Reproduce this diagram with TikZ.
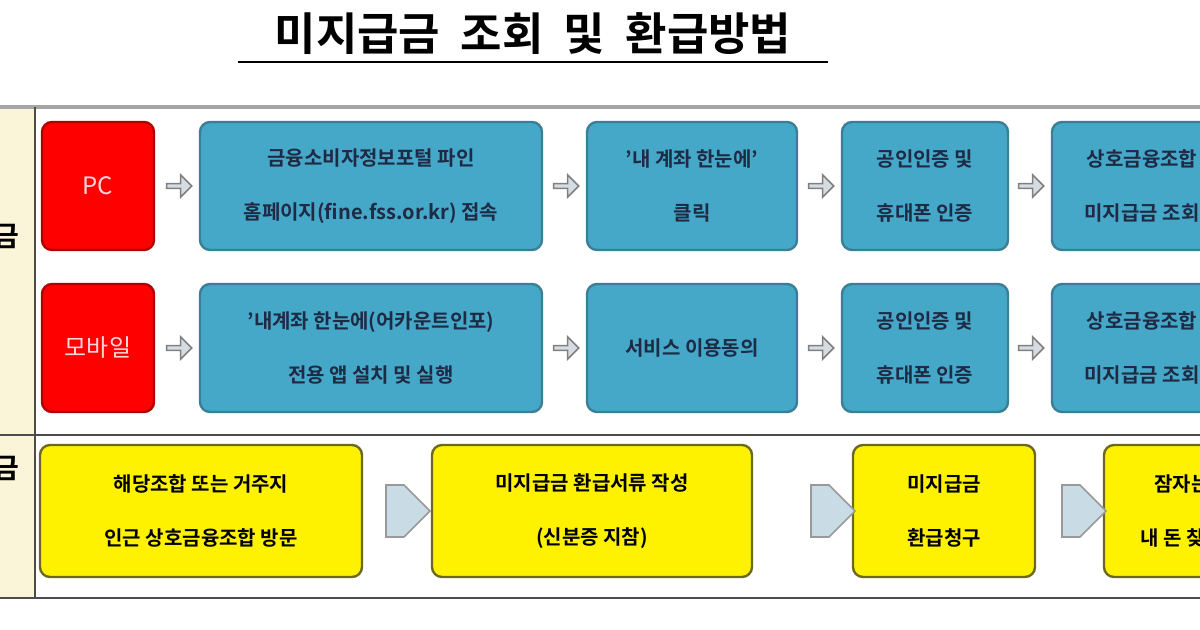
\documentclass[tikz,border=0pt]{standalone}
\usepackage{fontspec}
\setmainfont{Noto Sans CJK KR}[BoldFont={* Bold}]
\usetikzlibrary{shapes.arrows}
\definecolor{cream}{HTML}{FAF5D8}
\definecolor{blueF}{HTML}{45A8C8}
\definecolor{blueD}{HTML}{3A7F96}
\definecolor{navy}{HTML}{1F2A44}
\definecolor{arrG}{HTML}{D5DDE3}
\definecolor{arrB}{HTML}{C9DCE6}
\tikzset{
  box/.style={rounded corners=5pt, line width=1.2pt, align=center, font=\bfseries\fontsize{10}{27}\selectfont, inner sep=0pt},
  redbox/.style={box, fill=red, draw=red!70!black, text=white!85!red, font=\fontsize{12}{14}\selectfont, minimum width=56pt, minimum height=64pt},
  bluebox/.style={box, fill=blueF, draw=blueD, text=navy, minimum height=64pt},
  yelbox/.style={box, fill=yellow, draw=olive!70!black, text=black, minimum height=66pt},
  tinyarrow/.style={single arrow, draw=gray, line width=0.8pt, fill=arrG, minimum width=11pt, single arrow head extend=1.5pt, minimum height=12.5pt, inner sep=0pt},
  bigarrow/.style={single arrow, draw=gray!80, line width=0.8pt, fill=arrB, minimum width=26pt, single arrow head extend=0pt, minimum height=22pt, inner sep=0pt}
}
\begin{document}
\begin{tikzpicture}[x=0.5pt,y=-0.5pt]
\useasboundingbox (0,0) rectangle (1200,630);
\clip (0,0) rectangle (1200,630);
\fill[white] (0,0) rectangle (1200,630);

%%%%% title
\node[font=\bfseries\fontsize{22.5}{24}\selectfont](title) at (533,34){미지급금\ \ 조회\ \ 및\ \ 환급방법};
\draw[line width=1.2pt] (238,62) -- (828,62);

%%%%% frame
\fill[cream] (0,107) rectangle (35,598);
\draw[gray!70, line width=2pt] (0,107) -- (1200,107);
\draw[black!70, line width=1.2pt] (0,435) -- (1200,435);
\draw[black!70, line width=1.2pt] (0,598) -- (1200,598);
\draw[black!70, line width=1.2pt] (35,107) -- (35,598);
\node[font=\bfseries\fontsize{14}{16}\selectfont](side1) at (6,236){금};
\node[font=\bfseries\fontsize{14}{16}\selectfont](side2) at (6,468){금};

%%%%% PC row
\node[redbox](pc) at (98,186){PC};
\node[bluebox, minimum width=171pt](pc1) at (371,186){금융소비자정보포털 파인\\홈페이지(fine.fss.or.kr) 접속};
\node[bluebox, minimum width=105pt](pc2) at (692,186){'내 계좌 한눈에'\\클릭};
\node[bluebox, minimum width=83pt](pc3) at (925,186){공인인증 및\\휴대폰 인증};
\node[bluebox, minimum width=90pt](pc4) at (1142,186){상호금융조합\\미지급금 조회};

%%%%% mobile row
\node[redbox](mo) at (98,348){모바일};
\node[bluebox, minimum width=171pt](mo1) at (371,348){'내계좌 한눈에(어카운트인포)\\전용 앱 설치 및 실행};
\node[bluebox, minimum width=105pt](mo2) at (692,348){서비스 이용동의};
\node[bluebox, minimum width=83pt](mo3) at (925,348){공인인증 및\\휴대폰 인증};
\node[bluebox, minimum width=90pt](mo4) at (1142,348){상호금융조합\\미지급금 조회};

\foreach \y/\r in {186/pc,348/mo}{
  \node[tinyarrow](\r a1) at (178,\y){};
  \node[tinyarrow](\r a2) at (565,\y){};
  \node[tinyarrow](\r a3) at (820,\y){};
  \node[tinyarrow](\r a4) at (1030,\y){};
}

%%%%% offline row
\node[yelbox, minimum width=161pt](y1) at (201,511){해당조합 또는 거주지\\인근 상호금융조합 방문};
\node[yelbox, minimum width=160pt](y2) at (592,511){미지급금 환급서류 작성\\(신분증 지참)};
\node[yelbox, minimum width=91pt](y3) at (944,511){미지급금\\환급청구};
\node[yelbox, minimum width=78pt](y4) at (1182,511){잠자는\\내 돈 찾기};
\node[bigarrow](ya1) at (395,511){};
\node[bigarrow](ya2) at (820,511){};
\node[bigarrow](ya3) at (1071,511){};
\end{tikzpicture}
\end{document}
